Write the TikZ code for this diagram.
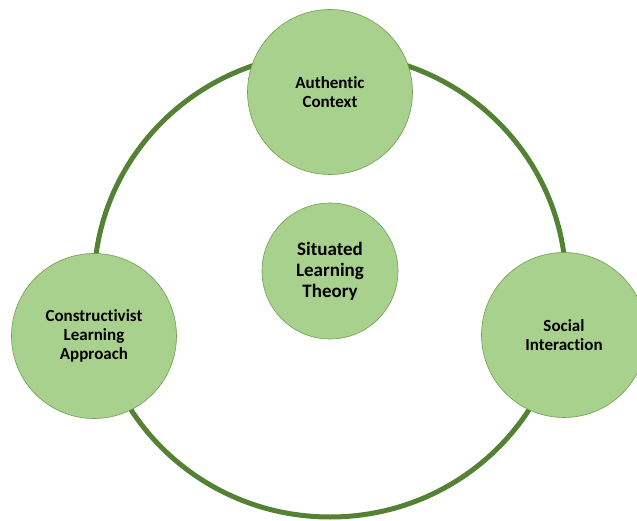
\documentclass[tikz,border=0pt]{standalone}
\usepackage{fontspec}
\setmainfont{Carlito}[Ligatures=NoCommon]
\usepackage{tikz}
\usetikzlibrary{positioning,backgrounds}
\definecolor{leaf}{HTML}{A9D18E}
\definecolor{leafline}{HTML}{6F9E4E}
\definecolor{ringgreen}{HTML}{548235}
\tikzset{
    node distance=4cm, % overwritten in the picture
    idea/.style={circle, fill=leaf, draw=leafline, line width=0.6pt,
        minimum size=165pt, inner sep=0pt, align=center,
        font=\fontsize{17}{19}\selectfont\bfseries},
    core/.style={idea, minimum size=136pt,
        font=\fontsize{19}{21}\selectfont\bfseries},
    ring/.style={draw=ringgreen, line width=5pt}
}

\begin{document}
\begin{tikzpicture}[on grid,x=1pt,y=1pt]
   \useasboundingbox (0,0) rectangle (637,520);
   \clip (0,0) rectangle (637,520);
   \node[core] (theory) at (330,249) {Situated\\Learning\\Theory};
   \node[idea] (context) [above=179pt of theory] {Authentic\\Context};
   \node[idea] (constructivist) [below left=65pt and 236pt of theory] {Constructivist\\Learning\\Approach};
   \node[idea] (social) [below right=64pt and 234pt of theory] {Social\\Interaction};
   % the ring behind the three outer circles
   \begin{scope}[on background layer]
      \draw[ring] ([yshift=-14pt]theory.center) ellipse [x radius=236pt, y radius=232pt];
   \end{scope}
\end{tikzpicture}
\end{document}
